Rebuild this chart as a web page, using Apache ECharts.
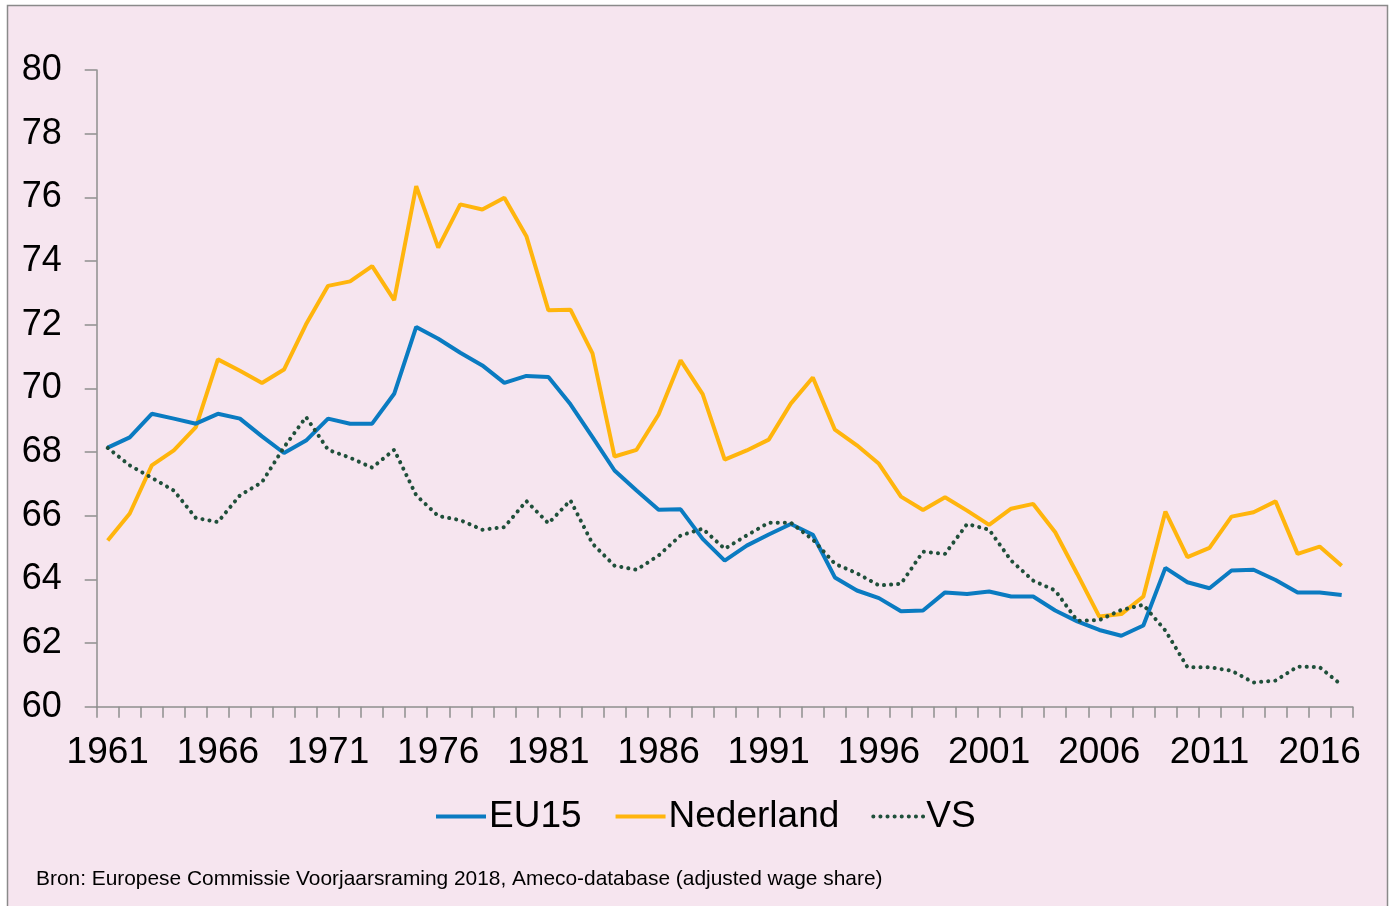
<!DOCTYPE html>
<html>
<head>
<meta charset="utf-8">
<script src="https://cdn.jsdelivr.net/npm/echarts@6/dist/echarts.min.js"></script>
<style>
html,body{margin:0;padding:0;background:#ffffff;}
#chart{width:1391px;height:906px;}
</style>
</head>
<body>
<div id="chart"></div>
<script>
const years = [];
for (let y = 1961; y <= 2017; y++) years.push(String(y));

const eu15 = [68.14,68.46,69.20,69.05,68.89,69.20,69.05,68.49,67.97,68.36,
  69.05,68.89,68.89,69.83,71.93,71.56,71.12,70.72,70.17,70.39,
  70.36,69.50,68.47,67.42,66.79,66.19,66.20,65.27,64.59,65.06,
  65.41,65.74,65.40,64.06,63.65,63.41,63.00,63.02,63.59,63.54,
  63.62,63.46,63.46,63.02,62.68,62.41,62.23,62.55,64.36,63.91,
  63.72,64.28,64.30,63.98,63.59,63.59,63.51];

const nederland = [65.22,66.07,67.58,68.05,68.78,70.91,70.55,70.17,70.59,72.01,
  73.22,73.36,73.84,72.77,76.35,74.42,75.78,75.62,75.99,74.78,
  72.45,72.47,71.10,67.86,68.07,69.18,70.88,69.82,67.76,68.05,
  68.39,69.52,70.34,68.70,68.21,67.63,66.60,66.18,66.58,66.16,
  65.71,66.22,66.37,65.48,64.17,62.83,62.91,63.46,66.13,64.70,
  64.99,65.97,66.11,66.45,64.80,65.03,64.43];

const vs = [68.13,67.58,67.19,66.79,65.93,65.80,66.64,67.05,68.15,69.10,
  68.07,67.82,67.51,68.07,66.64,65.99,65.86,65.56,65.64,66.46,
  65.76,66.48,65.12,64.43,64.30,64.75,65.38,65.59,64.96,65.38,
  65.78,65.78,65.25,64.49,64.19,63.81,63.86,64.87,64.80,65.74,
  65.56,64.59,63.96,63.65,62.70,62.72,63.04,63.20,62.39,61.24,
  61.24,61.13,60.76,60.82,61.26,61.24,60.68];

const seriesNames = ['EU15', 'Nederland', 'VS'];
const sourceText = 'Bron: Europese Commissie Voorjaarsraming 2018, Ameco-database (adjusted wage share)';

const chart = echarts.init(document.getElementById('chart'), null, {renderer: 'canvas'});
const font = 'Liberation Sans, Arial, sans-serif';
const axisGrey = '#8e8e8e';

chart.setOption({
  backgroundColor: '#ffffff',
  animation: false,
  graphic: [{
    type: 'rect',
    z: -100,
    silent: true,
    shape: {x: 7.5, y: 5.5, width: 1380, height: 940},
    style: {fill: '#f6e5ef', stroke: '#8a8a8a', lineWidth: 1.5}
  }],
  title: {
    text: sourceText,
    left: 31,
    top: 864,
    textStyle: {fontFamily: font, fontSize: 20.9, fontWeight: 'normal', color: '#000'}
  },
  legend: {
    data: seriesNames,
    left: 429,
    top: 793,
    itemWidth: 50,
    itemHeight: 14,
    itemGap: 32,
    itemStyle: {opacity: 0},
    lineStyle: {width: 4},
    textStyle: {fontFamily: font, fontSize: 37, color: '#000', padding: [0,0,0,-2]}
  },
  grid: {left: 96.7, right: 38.3, top: 70, bottom: 199.3, containLabel: false},
  xAxis: {
    type: 'category',
    data: years,
    boundaryGap: true,
    axisLine: {show: true, lineStyle: {color: axisGrey, width: 1.5}},
    axisTick: {show: true, interval: 0, alignWithLabel: false, length: 11, lineStyle: {color: axisGrey, width: 1.5}},
    axisLabel: {interval: 4, fontFamily: font, fontSize: 37, color: '#000', margin: 28},
    splitLine: {show: false}
  },
  yAxis: {
    type: 'value',
    min: 60, max: 80, interval: 2,
    axisLine: {show: true, lineStyle: {color: axisGrey, width: 1.5}},
    axisTick: {show: true, inside: false, length: 12, lineStyle: {color: axisGrey, width: 1.5}},
    axisLabel: {fontFamily: font, fontSize: 36, color: '#000', margin: 35},
    splitLine: {show: false}
  },
  series: [
    {name: 'EU15', type: 'line', data: eu15, symbol: 'none',
     lineStyle: {color: '#0a7bc1', width: 4}, itemStyle: {color: '#0a7bc1'}, z: 3},
    {name: 'Nederland', type: 'line', data: nederland, symbol: 'none',
     lineStyle: {color: '#ffb50d', width: 4}, itemStyle: {color: '#ffb50d'}, z: 2},
    {name: 'VS', type: 'line', data: vs, symbol: 'none',
     lineStyle: {color: '#1f4f3a', width: 4, type: [0.1, 7], cap: 'round'}, itemStyle: {color: '#1f4f3a'}, z: 4}
  ]
});
</script>
</body>
</html>
